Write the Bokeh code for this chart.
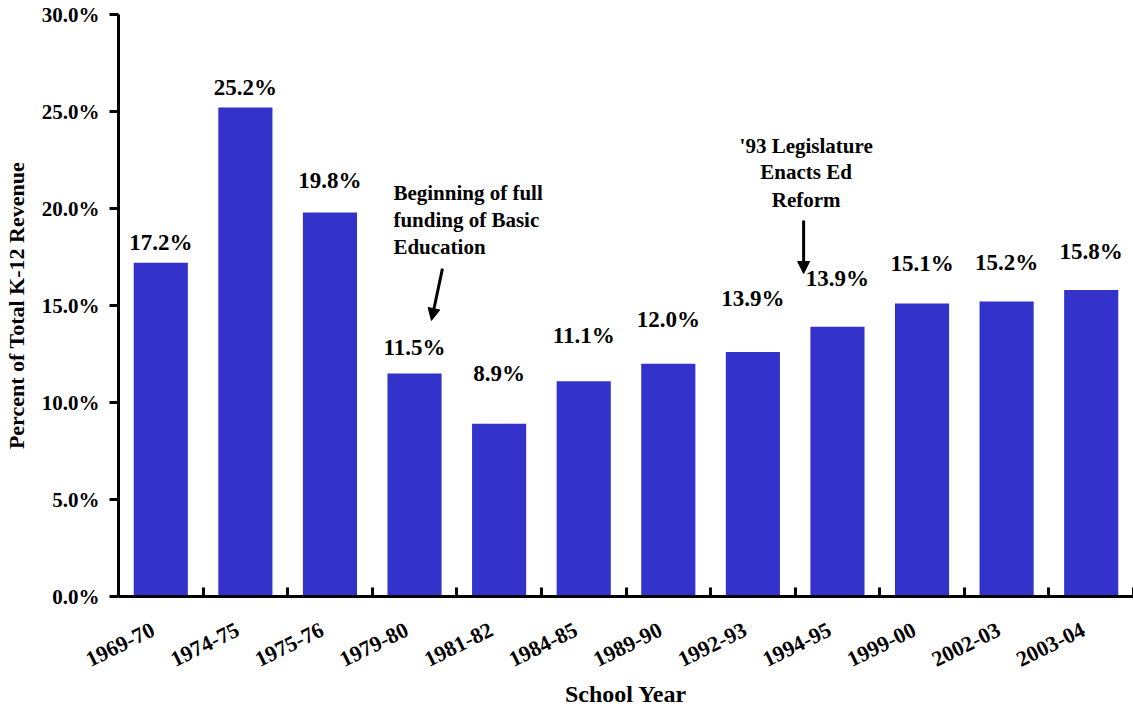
from bokeh.plotting import figure
from bokeh.models import (Range1d, FixedTicker, CustomJSTickFormatter, PrintfTickFormatter,
                          ColumnDataSource, LabelSet, Label, Arrow, NormalHead)
from bokeh.core.properties import value
from bokeh.embed import file_html
from bokeh.resources import INLINE

# ---- data ----
school_years = ["1969-70", "1974-75", "1975-76", "1979-80", "1981-82", "1984-85",
                "1989-90", "1992-93", "1994-95", "1999-00", "2002-03", "2003-04"]
bar_values = [17.2, 25.2, 19.8, 11.5, 8.9, 11.1, 12.0, 12.6, 13.9, 15.1, 15.2, 15.8]
label_values = [17.2, 25.2, 19.8, 11.5, 8.9, 11.1, 12.0, 13.9, 13.9, 15.1, 15.2, 15.8]
y_ticks = [0, 5, 10, 15, 20, 25, 30]

# label placement (screen px above each label's value)
label_offsets_px = [13, 13, 24, 18, 43, 38, 37, 21, 41, 33, 32, 31]

FONT = "Liberation Serif"
BLUE = "#3333CC"

n = len(school_years)
xs = [i + 0.5 for i in range(n)]
src = ColumnDataSource(dict(
    x=xs, top=bar_values, ly=label_values,
    txt=["%.1f%%" % v for v in label_values],
    off=label_offsets_px,
))

p = figure(width=1133, height=712, output_backend="svg", toolbar_location=None,
           x_range=Range1d(0, n), y_range=Range1d(0, 30),
           min_border_left=117, min_border_right=0, min_border_top=14, min_border_bottom=116)
p.outline_line_color = None
p.xgrid.visible = False
p.ygrid.visible = False
p.background_fill_color = "white"
p.border_fill_color = "white"

p.vbar(x="x", top="top", bottom=0, width=0.64, source=src,
       fill_color=BLUE, line_color=None)

labels = LabelSet(x="x", y="ly", text="txt", y_offset="off", source=src,
                  text_align="center", text_baseline="alphabetic",
                  text_font=value(FONT), text_font_style="bold", text_font_size="23px",
                  text_color="black")
p.add_layout(labels)

# ---- axes ----
xa = p.xaxis[0]
# label anchors sit slightly left of each bar centre (rotated labels end just left of it)
xa.ticker = FixedTicker(ticks=[i + 0.41 for i in range(n)], minor_ticks=list(range(n + 1)))
xa.formatter = CustomJSTickFormatter(args=dict(labels=school_years),
                                     code="return labels[Math.floor(tick)] || '';")
xa.major_tick_line_color = None
xa.minor_tick_in = 9
xa.minor_tick_out = 0
xa.minor_tick_line_width = 3
xa.minor_tick_line_color = "black"
xa.axis_line_width = 3
xa.axis_line_color = "black"
xa.major_label_orientation = 0.46
xa.major_label_standoff = 26
xa.major_label_text_font = FONT
xa.major_label_text_font_style = "bold"
xa.major_label_text_font_size = "22px"
xa.major_label_text_color = "black"
xa.axis_label = "School Year"
xa.axis_label_text_font = FONT
xa.axis_label_text_font_style = "bold"
xa.axis_label_text_font_size = "24px"
xa.axis_label_text_color = "black"
xa.axis_label_standoff = 4

ya = p.yaxis[0]
ya.ticker = FixedTicker(ticks=y_ticks, minor_ticks=[])
ya.formatter = PrintfTickFormatter(format="%.1f%%")
ya.major_tick_in = 0
ya.major_tick_out = 9
ya.major_tick_line_width = 3
ya.major_tick_line_color = "black"
ya.minor_tick_line_color = None
ya.axis_line_width = 3
ya.axis_line_color = "black"
ya.major_label_standoff = 10
ya.major_label_text_font = FONT
ya.major_label_text_font_style = "bold"
ya.major_label_text_font_size = "21px"
ya.major_label_text_color = "black"
ya.axis_label = "Percent of Total K-12 Revenue"
ya.axis_label_text_font = FONT
ya.axis_label_text_font_style = "bold"
ya.axis_label_text_font_size = "22px"
ya.axis_label_text_color = "black"
ya.axis_label_standoff = 10

# ---- annotations ----
ann1 = ["Beginning of full", "funding of Basic", "Education"]
for line, yv in zip(ann1, [20.82, 19.43, 18.04]):
    p.add_layout(Label(x=3.25, y=yv, text=line, text_align="left", text_baseline="alphabetic",
                       text_font=FONT, text_font_style="bold", text_font_size="21px",
                       text_color="black"))
p.add_layout(Arrow(x_start=3.83, y_start=16.9, x_end=3.70, y_end=14.23,
                   line_width=3, line_color="black",
                   end=NormalHead(size=12, fill_color="black", line_color="black")))

ann2 = ["'93 Legislature", "Enacts Ed", "Reform"]
for line, yv in zip(ann2, [23.21, 21.87, 20.45]):
    p.add_layout(Label(x=8.13, y=yv, text=line, text_align="center", text_baseline="alphabetic",
                       text_font=FONT, text_font_style="bold", text_font_size="21px",
                       text_color="black"))
p.add_layout(Arrow(x_start=8.10, y_start=19.38, x_end=8.10, y_end=16.65,
                   line_width=3, line_color="black",
                   end=NormalHead(size=12, fill_color="black", line_color="black")))

open("out.html", "w").write(file_html(p, INLINE))
